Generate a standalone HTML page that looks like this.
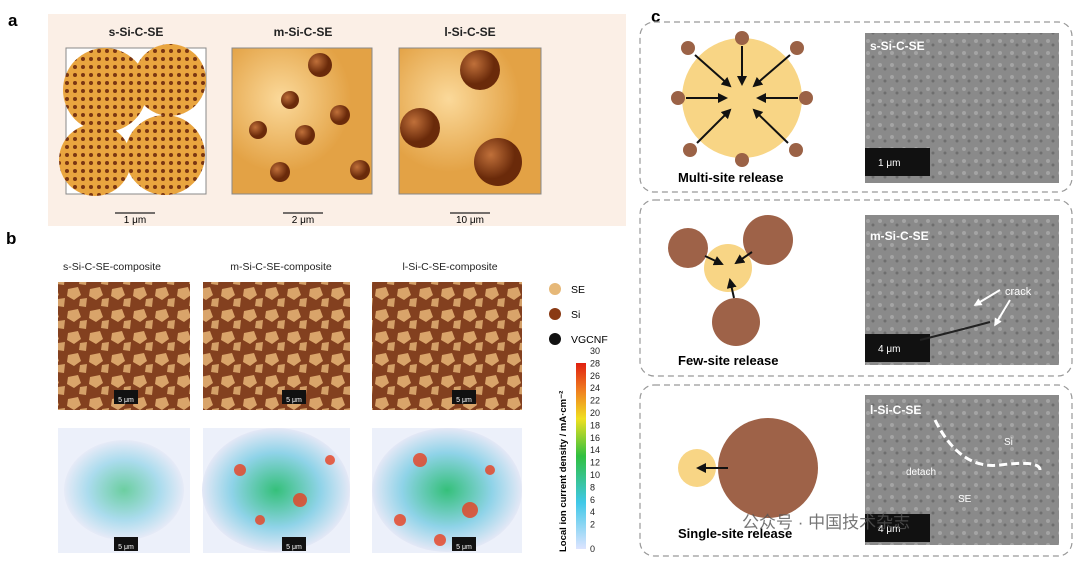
<!DOCTYPE html>
<html><head><meta charset="utf-8"><style>
body{margin:0;background:#fff;width:1080px;height:561px;overflow:hidden;font-family:"Liberation Sans",sans-serif}
</style></head><body>
<svg width="1080" height="561" viewBox="0 0 1080 561" xmlns="http://www.w3.org/2000/svg" font-family="Liberation Sans, sans-serif">
<defs>
<marker id="ah" viewBox="0 0 10 10" refX="8" refY="5" markerWidth="5" markerHeight="5" orient="auto"><path d="M0,0L10,5L0,10z" fill="#111"/></marker>
<marker id="wh" viewBox="0 0 10 10" refX="8" refY="5" markerWidth="4" markerHeight="4" orient="auto"><path d="M0,0L10,5L0,10z" fill="#fff"/></marker>
<pattern id="dots" width="8" height="8" patternUnits="userSpaceOnUse"><rect width="8" height="8" fill="#e9a53f"/><circle cx="3" cy="3" r="2" fill="#7a3612"/></pattern>
<radialGradient id="se" cx="35%" cy="35%"><stop offset="0" stop-color="#fbd99a"/><stop offset="1" stop-color="#e3a245"/></radialGradient>
<radialGradient id="si" cx="35%" cy="35%"><stop offset="0" stop-color="#c0703a"/><stop offset="1" stop-color="#6a2a0a"/></radialGradient>
<pattern id="cube" width="22" height="22" patternUnits="userSpaceOnUse"><rect width="22" height="22" fill="#83401f"/><polygon points="2,3 12,1 15,9 8,14 1,10" fill="#d9a46a"/><polygon points="14,13 21,12 20,21 13,20" fill="#d4a068"/></pattern>
<radialGradient id="heat" cx="50%" cy="50%"><stop offset="0" stop-color="#35c07a"/><stop offset=".6" stop-color="#8fd3e8"/><stop offset="1" stop-color="#e4e8f6"/></radialGradient>
<linearGradient id="cb" x1="0" y1="1" x2="0" y2="0"><stop offset="0" stop-color="#dde4ff"/><stop offset=".25" stop-color="#40c8e8"/><stop offset=".5" stop-color="#30c040"/><stop offset=".7" stop-color="#f0e020"/><stop offset=".85" stop-color="#f08020"/><stop offset="1" stop-color="#e02010"/></linearGradient>
<pattern id="sem" width="12" height="12" patternUnits="userSpaceOnUse"><rect width="12" height="12" fill="#8a8a8a"/><circle cx="4" cy="5" r="2" fill="#a4a4a4"/><circle cx="9" cy="9" r="1.5" fill="#6e6e6e"/></pattern>
</defs>
<text x="8" y="26" font-size="17" font-weight="bold">a</text>
<rect x="48" y="14" width="578" height="212" fill="#fbefe6"/>
<g font-size="12" font-weight="bold" fill="#222" text-anchor="middle">
<text x="136" y="36">s-Si-C-SE</text><text x="303" y="36">m-Si-C-SE</text><text x="470" y="36">l-Si-C-SE</text></g>
<rect x="66" y="48" width="140" height="146" fill="#fff" stroke="#888"/>
<circle cx="105" cy="90" r="42" fill="url(#dots)"/><circle cx="170" cy="80" r="36" fill="url(#dots)"/><circle cx="95" cy="160" r="36" fill="url(#dots)"/><circle cx="165" cy="155" r="40" fill="url(#dots)"/>
<rect x="232" y="48" width="140" height="146" fill="url(#se)" stroke="#888"/>
<circle cx="320" cy="65" r="12" fill="url(#si)"/><circle cx="290" cy="100" r="9" fill="url(#si)"/><circle cx="340" cy="115" r="10" fill="url(#si)"/><circle cx="258" cy="130" r="9" fill="url(#si)"/><circle cx="305" cy="135" r="10" fill="url(#si)"/><circle cx="280" cy="172" r="10" fill="url(#si)"/><circle cx="360" cy="170" r="10" fill="url(#si)"/>
<rect x="399" y="48" width="142" height="146" fill="url(#se)" stroke="#888"/>
<circle cx="480" cy="70" r="20" fill="url(#si)"/><circle cx="420" cy="128" r="20" fill="url(#si)"/><circle cx="498" cy="162" r="24" fill="url(#si)"/>
<g stroke="#222" stroke-width="1.2"><line x1="115" y1="213" x2="155" y2="213"/><line x1="283" y1="213" x2="323" y2="213"/><line x1="450" y1="213" x2="490" y2="213"/></g>
<g font-size="10" text-anchor="middle"><text x="135" y="223">1 μm</text><text x="303" y="223">2 μm</text><text x="470" y="223">10 μm</text></g>
<text x="6" y="244" font-size="17" font-weight="bold">b</text>
<g font-size="10.5" text-anchor="middle" fill="#222"><text x="112" y="270">s-Si-C-SE-composite</text><text x="281" y="270">m-Si-C-SE-composite</text><text x="450" y="270">l-Si-C-SE-composite</text></g>
<rect x="58" y="282" width="132" height="128" fill="url(#cube)"/><rect x="203" y="282" width="147" height="128" fill="url(#cube)"/><rect x="372" y="282" width="150" height="128" fill="url(#cube)"/>
<g fill="#ecf0fa"><rect x="58" y="428" width="132" height="125"/><rect x="203" y="428" width="147" height="125"/><rect x="372" y="428" width="150" height="125"/></g>
<ellipse cx="124" cy="490" rx="60" ry="50" fill="url(#heat)" opacity=".7"/>
<ellipse cx="276" cy="490" rx="74" ry="62" fill="url(#heat)"/><ellipse cx="447" cy="490" rx="75" ry="62" fill="url(#heat)"/>
<g fill="#e84020" opacity=".8"><circle cx="240" cy="470" r="6"/><circle cx="300" cy="500" r="7"/><circle cx="260" cy="520" r="5"/><circle cx="330" cy="460" r="5"/><circle cx="420" cy="460" r="7"/><circle cx="470" cy="510" r="8"/><circle cx="400" cy="520" r="6"/><circle cx="490" cy="470" r="5"/><circle cx="440" cy="540" r="6"/></g>
<g fill="#111"><rect x="114" y="390" width="24" height="14"/><rect x="282" y="390" width="24" height="14"/><rect x="452" y="390" width="24" height="14"/><rect x="114" y="537" width="24" height="14"/><rect x="282" y="537" width="24" height="14"/><rect x="452" y="537" width="24" height="14"/></g>
<g fill="#fff" font-size="7" text-anchor="middle"><text x="126" y="402">5 μm</text><text x="294" y="402">5 μm</text><text x="464" y="402">5 μm</text><text x="126" y="549">5 μm</text><text x="294" y="549">5 μm</text><text x="464" y="549">5 μm</text></g>
<circle cx="555" cy="289" r="6" fill="#e6b878"/><circle cx="555" cy="314" r="6" fill="#8a3a14"/><circle cx="555" cy="339" r="6" fill="#111"/>
<g font-size="10.5"><text x="571" y="293">SE</text><text x="571" y="318">Si</text><text x="571" y="343">VGCNF</text></g>
<rect x="576" y="363" width="10" height="186" fill="url(#cb)"/>
<g font-size="9" fill="#222">
<text x="590" y="552">0</text><text x="590" y="527.6">2</text><text x="590" y="515.2">4</text><text x="590" y="502.8">6</text><text x="590" y="490.4">8</text><text x="590" y="478">10</text><text x="590" y="465.6">12</text><text x="590" y="453.2">14</text><text x="590" y="440.8">16</text><text x="590" y="428.4">18</text><text x="590" y="416">20</text><text x="590" y="403.6">22</text><text x="590" y="391.2">24</text><text x="590" y="378.8">26</text><text x="590" y="366.4">28</text><text x="590" y="354">30</text></g>
<text transform="translate(566,552) rotate(-90)" font-size="9.5" font-weight="bold">Local ion current density / mA·cm⁻²</text>
<text x="651" y="22" font-size="17" font-weight="bold">c</text>
<g fill="none" stroke="#999" stroke-dasharray="6,4" stroke-width="1.2"><rect x="640" y="22" width="432" height="170" rx="14"/><rect x="640" y="200" width="432" height="176" rx="14"/><rect x="640" y="385" width="432" height="171" rx="14"/></g>
<circle cx="742" cy="98" r="60" fill="#f8d585"/>
<g fill="#9b6246"><circle cx="688" cy="48" r="7"/><circle cx="742" cy="38" r="7"/><circle cx="797" cy="48" r="7"/><circle cx="678" cy="98" r="7"/><circle cx="806" cy="98" r="7"/><circle cx="690" cy="150" r="7"/><circle cx="742" cy="160" r="7"/><circle cx="796" cy="150" r="7"/></g>
<g stroke="#111" stroke-width="2" marker-end="url(#ah)"><line x1="695" y1="55" x2="730" y2="86"/><line x1="742" y1="46" x2="742" y2="84"/><line x1="790" y1="55" x2="754" y2="86"/><line x1="686" y1="98" x2="726" y2="98"/><line x1="798" y1="98" x2="758" y2="98"/><line x1="697" y1="143" x2="730" y2="110"/><line x1="788" y1="143" x2="754" y2="110"/></g>
<text x="678" y="182" font-size="13" font-weight="bold">Multi-site release</text>
<rect x="865" y="33" width="194" height="150" fill="url(#sem)"/><rect x="865" y="148" width="65" height="28" fill="#111"/><text x="878" y="166" font-size="10" fill="#fff">1 μm</text><text x="870" y="50" font-size="12" font-weight="bold" fill="#fff">s-Si-C-SE</text>
<circle cx="728" cy="268" r="24" fill="#f8d585"/><circle cx="688" cy="248" r="20" fill="#9e6248"/><circle cx="768" cy="240" r="25" fill="#9e6248"/><circle cx="736" cy="322" r="24" fill="#9e6248"/>
<g stroke="#111" stroke-width="2" marker-end="url(#ah)"><line x1="705" y1="256" x2="722" y2="264"/><line x1="752" y1="252" x2="736" y2="263"/><line x1="734" y1="298" x2="730" y2="280"/></g>
<text x="678" y="365" font-size="13" font-weight="bold">Few-site release</text>
<rect x="865" y="215" width="194" height="150" fill="url(#sem)"/><rect x="865" y="334" width="65" height="28" fill="#111"/><text x="878" y="352" font-size="10" fill="#fff">4 μm</text><text x="870" y="240" font-size="12" font-weight="bold" fill="#fff">m-Si-C-SE</text><text x="1005" y="295" font-size="11" fill="#fff">crack</text>
<g stroke="#fff" stroke-width="2" marker-end="url(#wh)"><line x1="1000" y1="290" x2="975" y2="305"/><line x1="1010" y1="300" x2="995" y2="325"/></g>
<path d="M920 340 Q960 330 990 322" fill="none" stroke="#222" stroke-width="2"/>
<circle cx="768" cy="468" r="50" fill="#9e6248"/><circle cx="697" cy="468" r="19" fill="#f8d585"/><line x1="728" y1="468" x2="698" y2="468" stroke="#111" stroke-width="2" marker-end="url(#ah)"/>
<text x="678" y="538" font-size="13" font-weight="bold">Single-site release</text>
<rect x="865" y="395" width="194" height="150" fill="url(#sem)"/><rect x="865" y="514" width="65" height="28" fill="#111"/><text x="878" y="532" font-size="10" fill="#fff">4 μm</text><text x="870" y="414" font-size="12" font-weight="bold" fill="#fff">l-Si-C-SE</text>
<path d="M935 420 Q960 470 1000 465 T1040 470" fill="none" stroke="#fff" stroke-width="3" stroke-dasharray="8,4"/>
<text x="1004" y="445" font-size="10" fill="#fff">Si</text><text x="906" y="475" font-size="10" fill="#fff">detach</text><text x="958" y="502" font-size="10" fill="#fff">SE</text>
<text x="742" y="528" font-size="17" fill="#555" opacity=".8">公众号 · 中国技术杂志</text>
</svg>
</body></html>
